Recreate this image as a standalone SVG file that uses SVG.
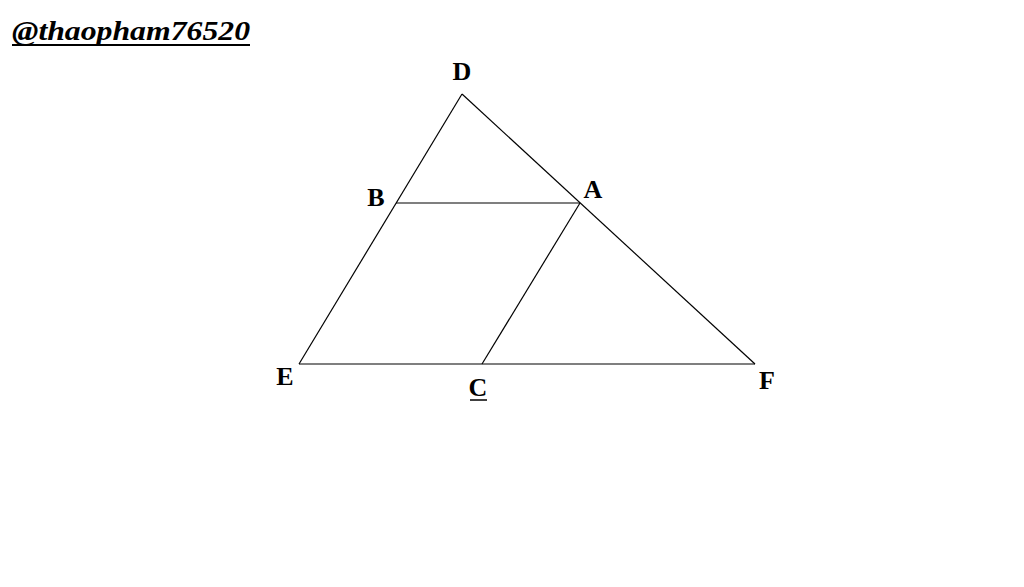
<svg xmlns="http://www.w3.org/2000/svg" width="1024" height="587" viewBox="0 0 1024 587">
<style>
.lbl{font-family:"Liberation Serif","DejaVu Serif",serif;font-weight:bold;font-size:26px;fill:#000}
.ln{stroke:#000;stroke-width:1.2;fill:none}
</style>
<rect width="1024" height="587" fill="#fff"/>
<g id="title">
<text x="12" y="40" font-family="Liberation Serif, DejaVu Serif, serif" font-weight="bold" font-style="italic" font-size="27" textLength="238" lengthAdjust="spacingAndGlyphs" fill="#000">@thaopham76520</text>
<line x1="12" y1="45" x2="250" y2="45" stroke="#000" stroke-width="2"/>
</g>
<g id="connectors">
<line class="ln" x1="462" y1="94" x2="299" y2="364"/>
<line class="ln" x1="462" y1="94" x2="755" y2="364"/>
<line class="ln" x1="299" y1="364" x2="755" y2="364"/>
<line class="ln" x1="396" y1="203" x2="580" y2="203"/>
<line class="ln" x1="580" y1="203" x2="482" y2="364"/>
</g>
<g id="D"><text class="lbl" x="462" y="80" text-anchor="middle">D</text></g>
<g id="B"><text class="lbl" x="376" y="206" text-anchor="middle">B</text></g>
<g id="A"><text class="lbl" x="593" y="198" text-anchor="middle">A</text></g>
<g id="E"><text class="lbl" x="285" y="385" text-anchor="middle">E</text></g>
<g id="C"><text class="lbl" x="478" y="396" text-anchor="middle">C</text><line x1="470" y1="400" x2="487" y2="400" stroke="#000" stroke-width="1.5"/></g>
<g id="F"><text class="lbl" x="767" y="389" text-anchor="middle">F</text></g>
</svg>
